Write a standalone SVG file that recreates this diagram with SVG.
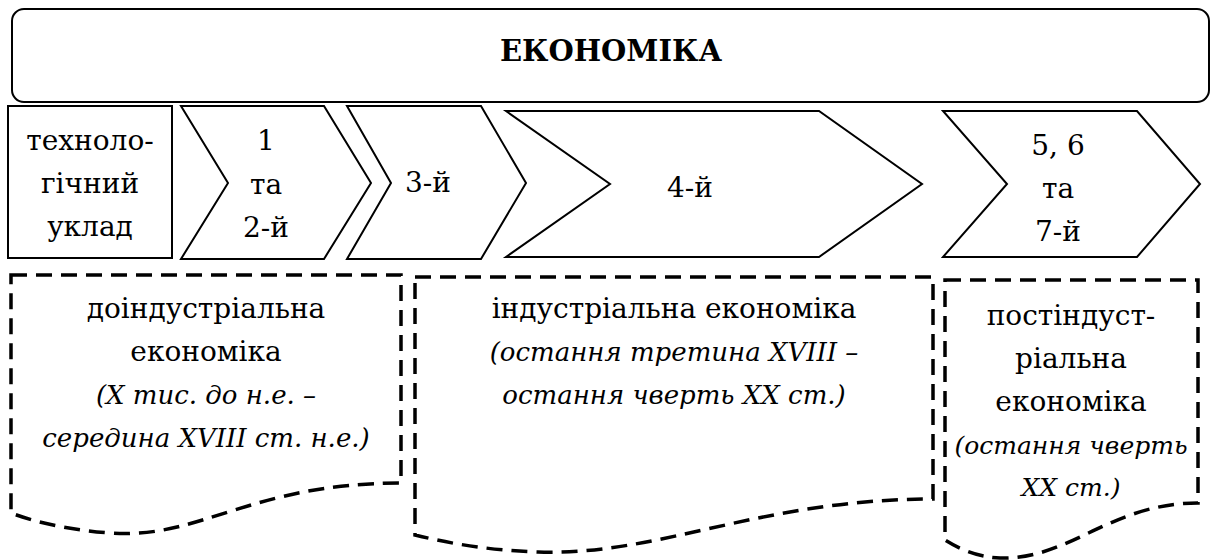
<svg xmlns="http://www.w3.org/2000/svg" width="1211" height="560" viewBox="0 0 1211 560">
<style>
.solid{fill:#fff;stroke:#000;stroke-width:2;stroke-linejoin:miter}
.dash{fill:#fff;stroke:#000;stroke-width:3.5;stroke-dasharray:16 9}
.t{font-family:'DejaVu Serif',serif;font-size:28px;fill:#000;text-anchor:middle}
.title{font-weight:bold;font-size:29px}
.it{font-style:italic;font-size:26px}
.it2{font-style:italic;font-size:25px}
</style>
<rect width="1211" height="560" fill="#fff"/>
<g id="economy">
<rect class="solid" x="12" y="9" width="1197" height="93" rx="12" ry="12"/>
<text class="t title" x="611" y="61">ЕКОНОМІКА</text>
</g>
<g id="tech-order">
<rect class="solid" x="8" y="106" width="164" height="152"/>
<text class="t" x="90" y="150">техноло-</text>
<text class="t" x="90" y="193">гічний</text>
<text class="t" x="90" y="236">уклад</text>
</g>
<g id="stage-1-2">
<polygon class="solid" points="181,106 324,106 371,183 324,259 181,259 228,183"/>
<text class="t" x="266" y="150">1</text>
<text class="t" x="266" y="194">та</text>
<text class="t" x="266" y="237">2-й</text>
</g>
<g id="stage-3">
<polygon class="solid" points="347,106 481,106 526,183 481,259 347,259 391,183"/>
<text class="t" x="428" y="192">3-й</text>
</g>
<g id="stage-4">
<polygon class="solid" points="506,111 819,111 922,184 819,257 506,257 610,184"/>
<text class="t" x="690" y="197">4-й</text>
</g>
<g id="stage-5-7">
<polygon class="solid" points="943,111 1137,111 1200,184 1137,257 943,257 1007,184"/>
<text class="t" x="1058" y="155">5, 6</text>
<text class="t" x="1058" y="198">та</text>
<text class="t" x="1058" y="241">7-й</text>
</g>
<g id="preindustrial">
<path class="dash" d="M11,275 H401 V483 C250,483 200,540 110,533 C60,529 30,520 11,513 Z"/>
<text class="t" x="206" y="318">доіндустріальна</text>
<text class="t" x="206" y="361">економіка</text>
<text class="t it" x="206" y="404">(Х тис. до н.е. –</text>
<text class="t it" x="206" y="447">середина XVIII ст. н.е.)</text>
</g>
<g id="industrial">
<path class="dash" d="M415,277 H933 V499 C760,499 660,556 538,552 C480,550 440,541 415,535 Z"/>
<text class="t" x="674" y="318">індустріальна економіка</text>
<text class="t it" x="674" y="361">(остання третина XVIII –</text>
<text class="t it" x="674" y="404">остання чверть XX ст.)</text>
</g>
<g id="postindustrial">
<path class="dash" d="M945,280 H1198 V503 C1110,503 1070,560 1000,558 C975,557 958,548 945,540 Z"/>
<text class="t" x="1071" y="325">постіндуст-</text>
<text class="t" x="1071" y="368">ріальна</text>
<text class="t" x="1071" y="411">економіка</text>
<text class="t it2" x="1071" y="454">(остання чверть</text>
<text class="t it2" x="1071" y="496">XX ст.)</text>
</g>
<g id="connectors"></g>
</svg>
